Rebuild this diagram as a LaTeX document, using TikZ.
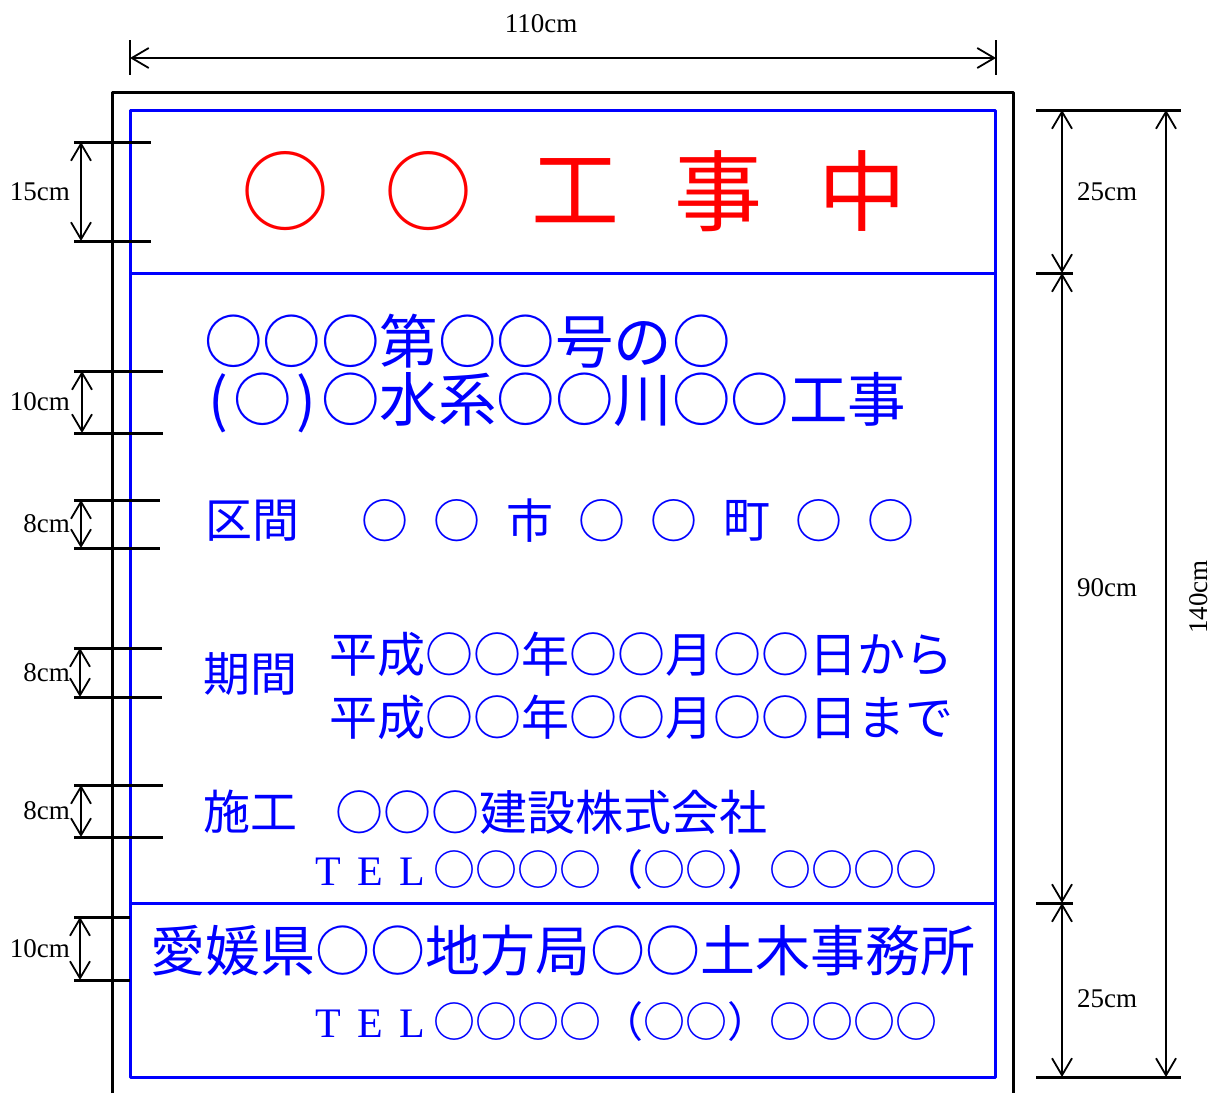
\documentclass[tikz,border=0pt]{standalone}
\usepackage{fontspec}
\setmainfont{Liberation Serif}
\newfontfamily\jp{Noto Sans CJK JP}
\usetikzlibrary{arrows.meta}
\newcommand{\jpsize}[1]{\jp\fontsize{#1}{#1}\selectfont}
\newcommand{\fw}[1]{\makebox[1em]{\rmfamily #1}}
\newcommand{\hw}[1]{\makebox[0.5em]{#1}}
\begin{document}
\begin{tikzpicture}[x=1pt, y=-1pt, line join=round,
	dim/.style={line width=1.8pt, {Straight Barb[length=17pt,width=20pt]}-{Straight Barb[length=17pt,width=20pt]}},
	tick/.style={line width=3pt},
	lbl/.style={font=\fontsize{27}{27}\selectfont, inner sep=0pt},
	sign/.style={blue, line width=3pt},
	txt/.style={blue, inner sep=0pt, anchor=west}]
	\useasboundingbox (0,0) rectangle (1217,1093);
	% frame and board
	\draw[line width=3pt] (112,1093) -- (112,92) -- (1013,92) -- (1013,1093);
	\draw[sign] (130,110) rectangle (995,1077);
	\draw[sign] (130,273) -- (995,273);
	\draw[sign] (130,903) -- (995,903);
	% width
	\draw[line width=2.5pt] (130,40) -- (130,75) (996,40) -- (996,75);
	\coordinate (wl) at (130,58);
	\coordinate (wr) at (996,58);
	\draw[dim] (wl) -- (wr);
	\node[lbl] (wlab) at (541,24) {110cm};
	% heights on the right
	\draw[tick] (1036,110) -- (1181,110) (1036,1077) -- (1181,1077);
	\draw[tick] (1036,273) -- (1073,273) (1036,903) -- (1073,903);
	\foreach \ya/\yb/\yl/\t [count=\i] in {110/273/192/25cm, 273/903/588/90cm, 903/1077/999/25cm}{
		\coordinate (r\i a) at (1062,\ya);
		\coordinate (r\i b) at (1062,\yb);
		\draw[dim] (r\i a) -- (r\i b);
		\node[lbl] (rlab\i) at (1107,\yl) {\t};
	}
	\coordinate (ht) at (1166,110);
	\coordinate (hb) at (1166,1077);
	\draw[dim] (ht) -- (hb);
	\node[lbl, rotate=90] (hlab) at (1199,597) {140cm};
	% letter heights on the left
	\foreach \ya/\yb/\xa/\xr/\t [count=\i] in {142/241/81/151/15cm, 371/433/82/163/10cm, 500/548/81/160/8cm, 648/697/80/162/8cm, 785/837/81/163/8cm, 917/980/80/130/10cm}{
		\draw[tick] (74,\ya) -- (\xr,\ya) (74,\yb) -- (\xr,\yb);
		\coordinate (l\i a) at (\xa,\ya);
		\coordinate (l\i b) at (\xa,\yb);
		\draw[dim] (l\i a) -- (l\i b);
		\node[lbl, anchor=east] (llab\i) at (70,{(\ya+\yb)/2}) {\t};
	}
	% title
	\foreach \c/\x [count=\i] in {○/285, ○/428, 工/575, 事/718, 中/862}
		\node[red, font=\jpsize{88}, inner sep=0pt] (t\i) at (\x,191) {\c};
	% board text
	\node[txt, font=\jpsize{58.5}] (name1) at (204,341) {○○○第○○号の○};
	\node[txt, font=\jpsize{58.5}] (name2) at (204,403) {\hw{(}○\hw{)}○水系○○川○○工事};
	\node[txt, font=\jpsize{47}] (kukan) at (205,521) {区間};
	\foreach \c [count=\i from 0] in {○,○,市,○,○,町,○,○}
		\node[blue, font=\jpsize{47}, inner sep=0pt] (k\i) at (385+72.3*\i,521) {\c};
	\node[txt, font=\jpsize{47}] (kikan) at (203,674) {期間};
	\node[txt, font=\jpsize{48}] (from) at (329,654) {平成○○年○○月○○日から};
	\node[txt, font=\jpsize{48}] (until) at (329,717) {平成○○年○○月○○日まで};
	\node[txt, font=\jpsize{47}] (seko) at (203,812) {施工};
	\node[txt, font=\jpsize{48}] (firm) at (335,812) {○○○建設株式会社};
	\node[txt, font=\jpsize{42}] (tel1) at (307,870) {\fw{T}\fw{E}\fw{L}○○○○（○○）○○○○};
	\node[txt, font=\jpsize{55}] (office) at (150,951) {愛媛県○○地方局○○土木事務所};
	\node[txt, font=\jpsize{42}] (tel2) at (307,1022) {\fw{T}\fw{E}\fw{L}○○○○（○○）○○○○};
\end{tikzpicture}
\end{document}
